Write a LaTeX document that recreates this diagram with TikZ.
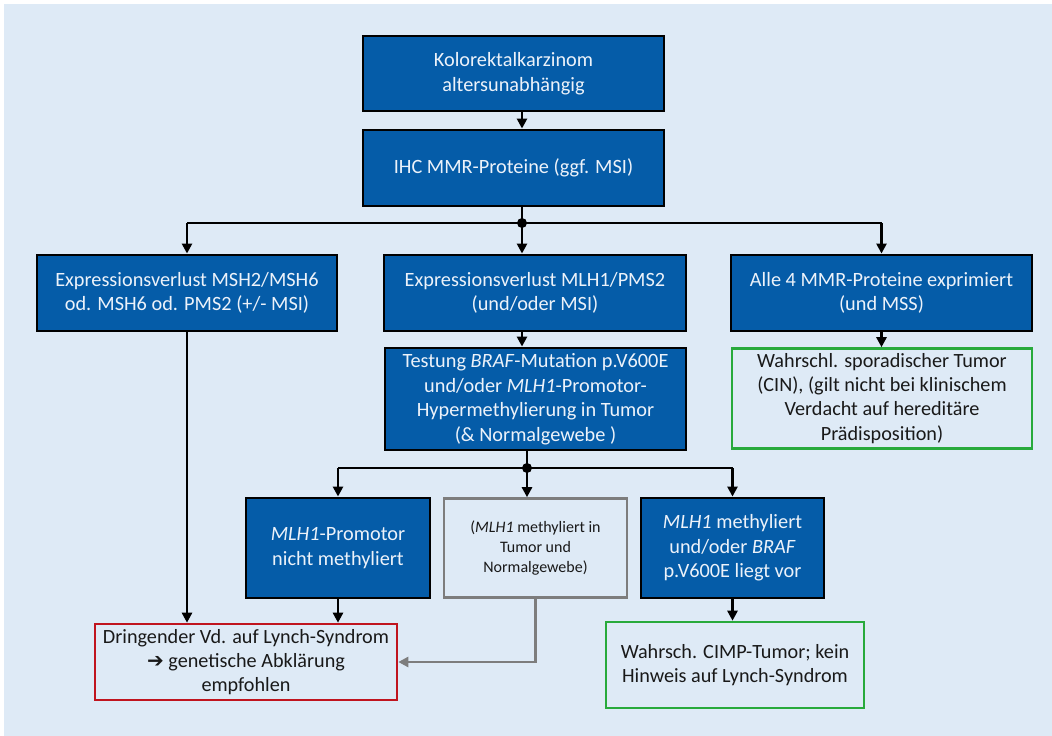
\documentclass[tikz,border=0pt]{standalone}
\usepackage{fontspec}
\setmainfont{Carlito}
\newfontfamily\dejavu{DejaVu Sans}
\usetikzlibrary{arrows.meta,calc}
\definecolor{bg}{RGB}{222,234,246}
\definecolor{boxblue}{RGB}{5,92,168}
\definecolor{boxtext}{RGB}{236,242,250}
\definecolor{okgreen}{RGB}{40,170,60}
\definecolor{warnred}{RGB}{192,20,30}
\definecolor{graybox}{RGB}{125,125,125}
\definecolor{darktext}{RGB}{25,25,25}
\tikzset{
  bluebox/.style={draw=black, line width=2.9pt, fill=boxblue, text=boxtext, align=center,
    inner sep=0pt, font=\fontsize{20.3}{24.5}\selectfont},
  greenbox/.style={draw=okgreen, line width=2.6pt, fill=bg, text=darktext, align=center,
    inner sep=0pt, font=\fontsize{20.2}{24.2}\selectfont},
  redbox/.style={draw=warnred, line width=2.6pt, fill=bg, text=darktext, align=center,
    inner sep=0pt, font=\fontsize{20.2}{24.2}\selectfont},
  greybox/.style={draw=graybox, line width=2.6pt, fill=bg, text=darktext, align=center,
    inner sep=0pt, font=\fontsize{16}{20}\selectfont},
  conn/.style={draw=black, line width=2.7pt},
  arr/.style={conn, -{Triangle[length=10pt,width=10pt]}},
  garr/.style={draw=graybox, line width=2.7pt, -{Triangle[length=10pt,width=10pt]}},
  jdot/.style={fill=black, circle, inner sep=0pt, minimum size=10pt}
}
\begin{document}
\begin{tikzpicture}[x=1pt,y=-1pt]
\useasboundingbox (0,0) rectangle (1052,736);
\fill[bg] (4,4) rectangle (1052,736);

\node[bluebox, minimum width=301pt, minimum height=75pt] (top) at (513.5,73.5)
  {Kolorektalkarzinom\\altersunabhängig};
\node[bluebox, minimum width=301pt, minimum height=76pt] (ihc) at (513.5,168)
  {IHC MMR-Proteine (ggf. MSI)};

\node[bluebox, minimum width=300pt, minimum height=76pt] (L) at (187,293)
  {Expressionsverlust MSH2/MSH6\\od. MSH6 od. PMS2 (+/- MSI)};
\node[bluebox, minimum width=302pt, minimum height=76pt] (M) at (535,293)
  {Expressionsverlust MLH1/PMS2\\(und/oder MSI)};
\node[bluebox, minimum width=301pt, minimum height=76pt] (R) at (881.5,293)
  {Alle 4 MMR-Proteine exprimiert\\(und MSS)};

\node[bluebox, minimum width=301pt, minimum height=102pt] (test) at (535.5,399)
  {Testung \textit{BRAF}-Mutation p.V600E\\und/oder \textit{MLH1}-Promotor-\\Hypermethylierung in Tumor\\(\& Normalgewebe )};
\node[greenbox, minimum width=300pt, minimum height=100pt] (spor) at (882,398.5)
  {Wahrschl. sporadischer Tumor\\(CIN), (gilt nicht bei klinischem\\Verdacht auf hereditäre\\Prädisposition)};

\node[bluebox, minimum width=184pt, minimum height=100pt] (nm) at (338,548)
  {\textit{MLH1}-Promotor\\nicht methyliert};
\node[greybox, minimum width=183pt, minimum height=99pt] (both) at (535.5,548)
  {(\textit{MLH1} methyliert in\\Tumor und\\Normalgewebe)};
\node[bluebox, minimum width=183pt, minimum height=100pt] (meth) at (732.5,548)
  {\textit{MLH1} methyliert\\und/oder \textit{BRAF}\\p.V600E liegt vor};

\node[redbox, minimum width=302pt, minimum height=76pt] (lynch) at (246,662)
  {Dringender Vd. auf Lynch-Syndrom\\{\dejavu\bfseries\fontsize{20}{24}\selectfont ➔} genetische Abklärung\\empfohlen};
\node[greenbox, minimum width=258pt, minimum height=86pt] (cimp) at (735,665)
  {Wahrsch. CIMP-Tumor; kein\\Hinweis auf Lynch-Syndrom};

\coordinate (j1) at (522,223);
\coordinate (j2) at (527,468);

% top part
\draw[arr] (top.south -| j1) -- (ihc.north -| j1);
\draw[conn] (ihc.south -| j1) -- (j1);
\draw[conn] (L.north |- j1) -- (R.north |- j1);
\draw[arr] (L.north |- j1) -- (L.north);
\draw[arr] (j1) -- (M.north -| j1);
\draw[arr] (R.north |- j1) -- (R.north);
\node[jdot] (d1) at (j1) {};

% middle
\draw[arr] (M.south -| j1) -- (test.north -| j1);
\draw[arr] (R.south) -- (R.south |- spor.north);

% second branching
\draw[conn] (test.south -| j2) -- (j2);
\draw[conn] (nm.north |- j2) -- (meth.north |- j2);
\draw[arr] (nm.north |- j2) -- (nm.north);
\draw[arr] (j2) -- (both.north -| j2);
\draw[arr] (meth.north |- j2) -- (meth.north);
\node[jdot] (d2) at (j2) {};

% bottom
\draw[arr] (L.south) -- (L.south |- lynch.north);
\draw[arr] (nm.south) -- (nm.south |- lynch.north);
\draw[garr] (both.south) -- (both.south |- lynch.east) -- (lynch.east);
\draw[arr] (meth.south) -- (meth.south |- cimp.north);
\end{tikzpicture}
\end{document}
